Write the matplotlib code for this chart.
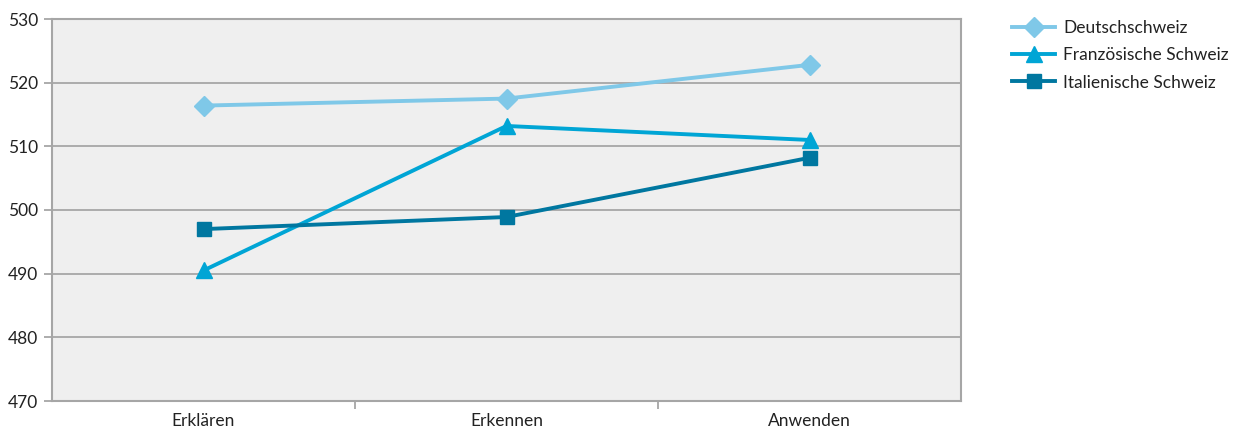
import matplotlib
matplotlib.use("Agg")
import matplotlib.pyplot as plt

categories = ["Erklären", "Erkennen", "Anwenden"]
deutschschweiz = [516.4, 517.5, 522.8]
franzoesisch = [490.5, 513.2, 511.0]
italienisch = [497.0, 498.9, 508.2]
series_names = ["Deutschschweiz", "Französische Schweiz", "Italienische Schweiz"]
yticks = [470, 480, 490, 500, 510, 520, 530]

plt.rcParams["font.family"] = ["Lato", "DejaVu Sans"]

fig = plt.figure(figsize=(12.35, 4.30), dpi=100)
ax = fig.add_axes([52 / 1235, 1 - 401 / 430, (961 - 52) / 1235, (401 - 19) / 430])
ax.set_facecolor("#efefef")

x = list(range(len(categories)))
styles = [
    (deutschschweiz, "#7fc8e8", "D", 10),
    (franzoesisch, "#00a5d5", "^", 11),
    (italienisch, "#0077a0", "s", 10),
]
for (vals, col, mk, ms), name in zip(styles, series_names):
    ax.plot(x, vals, color=col, lw=2.8, marker=mk, ms=ms, mec=col, mfc=col,
            label=name, zorder=3)

ax.set_xlim(-0.5, len(categories) - 0.5)
ax.set_ylim(yticks[0], yticks[-1])
ax.set_yticks(yticks)
ax.set_xticks(x)
ax.set_xticklabels(categories)
ax.set_xticks([i + 0.5 for i in x[:-1]], minor=True)

grid_col = "#a6a6a6"
ax.yaxis.grid(True, color=grid_col, lw=1.3, zorder=1)
for s in ax.spines.values():
    s.set_color(grid_col)
    s.set_linewidth(1.5)

ax.tick_params(axis="y", which="major", length=6, width=1.3, color=grid_col,
               labelsize=12.5, labelcolor="#222222", pad=4)
ax.tick_params(axis="x", which="major", length=0, labelsize=12.5,
               labelcolor="#222222", pad=9)
ax.tick_params(axis="x", which="minor", length=6, width=1.3, color=grid_col)

leg = fig.legend(loc="upper left", bbox_to_anchor=(1005 / 1235, 1 - 13 / 430),
                 frameon=False, fontsize=12.5, handlelength=2.5, handletextpad=0.45,
                 labelspacing=0.65, borderaxespad=0)
for t in leg.get_texts():
    t.set_color("#222222")

fig.savefig("out.png", dpi=100)
